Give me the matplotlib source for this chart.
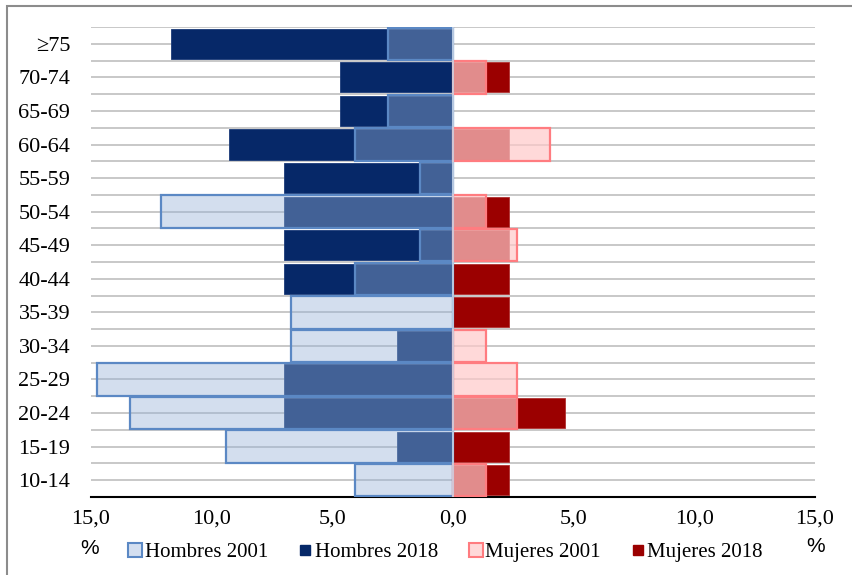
import numpy as np
import matplotlib
matplotlib.use('Agg')
import matplotlib.pyplot as plt
from matplotlib.lines import Line2D
from matplotlib.patches import Rectangle

plt.rcParams['font.family'] = ['Liberation Serif', 'DejaVu Serif']

# age groups, bottom to top
grupos = ['10-14', '15-19', '20-24', '25-29', '30-34', '35-39', '40-44',
          '45-49', '50-54', '55-59', '60-64', '65-69', '70-74', '\u226575']
hombres_2001 = [4.05, 9.4, 13.4, 14.75, 6.7, 6.7, 4.05, 1.35, 12.1, 1.35, 4.05, 2.7, 0.0, 2.7]
hombres_2018 = [0.0, 2.3, 7.0, 7.0, 2.3, 0.0, 7.0, 7.0, 7.0, 7.0, 9.3, 4.7, 4.7, 11.7]
mujeres_2001 = [1.35, 0.0, 2.65, 2.65, 1.35, 0.0, 0.0, 2.65, 1.35, 0.0, 4.0, 0.0, 1.35, 0.0]
mujeres_2018 = [2.3, 2.3, 4.65, 0.0, 0.0, 2.3, 2.3, 2.3, 2.3, 0.0, 2.3, 0.0, 2.3, 0.0]
xticks = [-15, -10, -5, 0, 5, 10, 15]

navy = '#062868'
dark_red = '#9b0000'
blue_fill = (150/255, 178/255, 216/255, 0.42)
blue_edge = '#5b88c4'
pink_fill = (1.0, 201/255, 201/255, 0.70)
pink_edge = '#ff7c80'

fig = plt.figure(figsize=(8.53, 5.75), dpi=100)
ax = fig.add_axes([91/853, 1 - 497/575, (815 - 91)/853, (497 - 27)/575])

y = np.arange(len(grupos))
h01 = np.array(hombres_2001)
h18 = np.array(hombres_2018)
m01 = np.array(mujeres_2001)
m18 = np.array(mujeres_2018)

# grid lines at every half category
for g in np.arange(-0.5, len(grupos), 0.5):
    ax.axhline(g, color='#c4c4c4', lw=1.3, zorder=0)

ax.barh(y, -h18, height=0.9, color=navy, edgecolor='#1a3a78', lw=0.6, zorder=2)
ax.barh(y, m18, height=0.9, color=dark_red, edgecolor='#b03030', lw=0.6, zorder=2)

mask = h01 > 0
ax.barh(y[mask], -h01[mask], height=0.97, color=blue_fill, edgecolor=blue_edge, lw=1.6, zorder=3)
mask = m01 > 0
ax.barh(y[mask], m01[mask], height=0.97, color=pink_fill, edgecolor=pink_edge, lw=1.6, zorder=3)

ax.axvline(0, color='#c8d4e6', lw=1.2, zorder=4)

ax.set_xlim(-15, 15)
ax.set_ylim(-0.5, len(grupos) - 0.5)
ax.set_yticks(y)
ax.set_yticklabels(grupos, fontsize=16)
ax.set_xticks(xticks)
ax.set_xticklabels(['{:.1f}'.format(abs(v)).replace('.', ',') for v in xticks], fontsize=16)
ax.tick_params(length=0)
ax.tick_params(axis='y', pad=15)
ax.tick_params(axis='x', pad=9)
for s in ['top', 'right', 'left']:
    ax.spines[s].set_visible(False)
ax.spines['bottom'].set_color('black')
ax.spines['bottom'].set_linewidth(1.5)

handles = [
    Line2D([], [], ls='', marker='s', markersize=10, markerfacecolor='#d4dff0', markeredgecolor=blue_edge, markeredgewidth=1.5),
    Line2D([], [], ls='', marker='s', markersize=7, markerfacecolor=navy, markeredgecolor=navy),
    Line2D([], [], ls='', marker='s', markersize=10, markerfacecolor='#ffd9d9', markeredgecolor=pink_edge, markeredgewidth=1.5),
    Line2D([], [], ls='', marker='s', markersize=7, markerfacecolor=dark_red, markeredgecolor=dark_red),
]
labels = ['Hombres 2001', 'Hombres 2018', 'Mujeres 2001', 'Mujeres 2018']
fig.legend(handles, labels, loc='center', bbox_to_anchor=(446/853, 1 - 552/575), ncol=4,
           frameon=False, fontsize=15, handlelength=0.6, handletextpad=0.15, columnspacing=1.5)

fig.text(90/853, 1 - 548/575, '%', fontsize=15, family='Liberation Sans', ha='center', va='center')
fig.text(816/853, 1 - 546/575, '%', fontsize=15, family='Liberation Sans', ha='center', va='center')

# outer frame (top and left visible)
fig.patches.append(Rectangle((7/853, -0.1), 1.2, 1 - 6/575 + 0.1, transform=fig.transFigure,
                             fill=False, edgecolor='#8c8c8c', lw=1.5, zorder=0))

fig.savefig('out.png', dpi=100)
